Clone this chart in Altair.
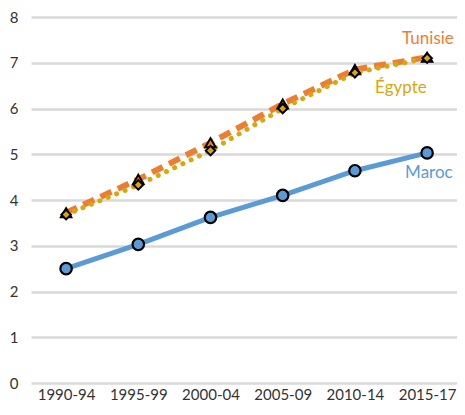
import altair as alt
import pandas as pd

periods = ["1990-94", "1995-99", "2000-04", "2005-09", "2010-14", "2015-17"]
maroc = [2.5, 3.03, 3.62, 4.1, 4.64, 5.03]
tunisie = [3.72, 4.45, 5.25, 6.1, 6.85, 7.12]
egypte = [3.68, 4.33, 5.08, 6.0, 6.78, 7.1]

c_maroc = "#5b9bd5"
c_tun = "#ed7d31"
c_egy = "#d8a70f"
FONT = "Lato"

df = pd.DataFrame({"period": periods, "Maroc": maroc, "Tunisie": tunisie, "Égypte": egypte})

x = alt.X("period:N", sort=periods, title=None,
          scale=alt.Scale(padding=0.45, align=0.54),
          axis=alt.Axis(labelAngle=0, domain=False, ticks=False, labelFontSize=15,
                        labelColor="#333333", labelFont=FONT, labelPadding=4))

def y(field):
    return alt.Y(f"{field}:Q", title=None,
                 scale=alt.Scale(domain=[0, 8], nice=False),
                 axis=alt.Axis(values=list(range(9)), domain=False, ticks=False,
                               gridColor="#d9d9d9", gridWidth=2.5, labelFontSize=15,
                               labelColor="#333333", labelFont=FONT, labelPadding=13))

base = alt.Chart(df)

line_m = base.mark_line(color=c_maroc, strokeWidth=5).encode(x=x, y=y("Maroc"))
line_t = base.mark_line(color=c_tun, strokeWidth=6, strokeDash=[12, 7]).encode(x=x, y=y("Tunisie"))
line_e = base.mark_line(color=c_egy, strokeWidth=5, strokeDash=[0.1, 9], strokeCap="round").encode(x=x, y=y("Égypte"))

pt_t = base.mark_point(shape="triangle-up", filled=True, fill=c_tun, stroke="black", strokeWidth=2, size=110, opacity=1).encode(x=x, y=y("Tunisie"))
pt_e = base.mark_point(shape="diamond", filled=True, fill=c_egy, stroke="black", strokeWidth=2, size=90, opacity=1).encode(x=x, y=y("Égypte"))
pt_m = base.mark_point(shape="circle", filled=True, fill=c_maroc, stroke="black", strokeWidth=2.2, size=130, opacity=1).encode(x=x, y=y("Maroc"))

lab_names = ["Tunisie", "Égypte", "Maroc"]
lab_period = ["2015-17", "2015-17", "2015-17"]
lab_value = [7.52, 6.45, 4.58]
lab_colors = [c_tun, c_egy, c_maroc]
lab_dx = [-25, -52, -22]
labels = []
for n, p, v, c, d in zip(lab_names, lab_period, lab_value, lab_colors, lab_dx):
    labels.append(alt.Chart(pd.DataFrame({"period": [p], "v": [v], "t": [n]})).mark_text(
        color=c, fontSize=17, font=FONT, dx=d, align="left", baseline="middle"
    ).encode(x=x, y=y("v"), text="t:N"))

chart = alt.layer(line_t, line_e, line_m, pt_t, pt_e, pt_m, *labels).properties(
    width=426, height=366,
    autosize=alt.AutoSizeParams(type="none"),
    padding={"left": 23, "top": 9, "right": 0, "bottom": 22},
).configure_view(stroke=None).configure_axisY(labelAlign="right")

chart.save("out.html", embed_options={"renderer": "svg", "actions": False})
